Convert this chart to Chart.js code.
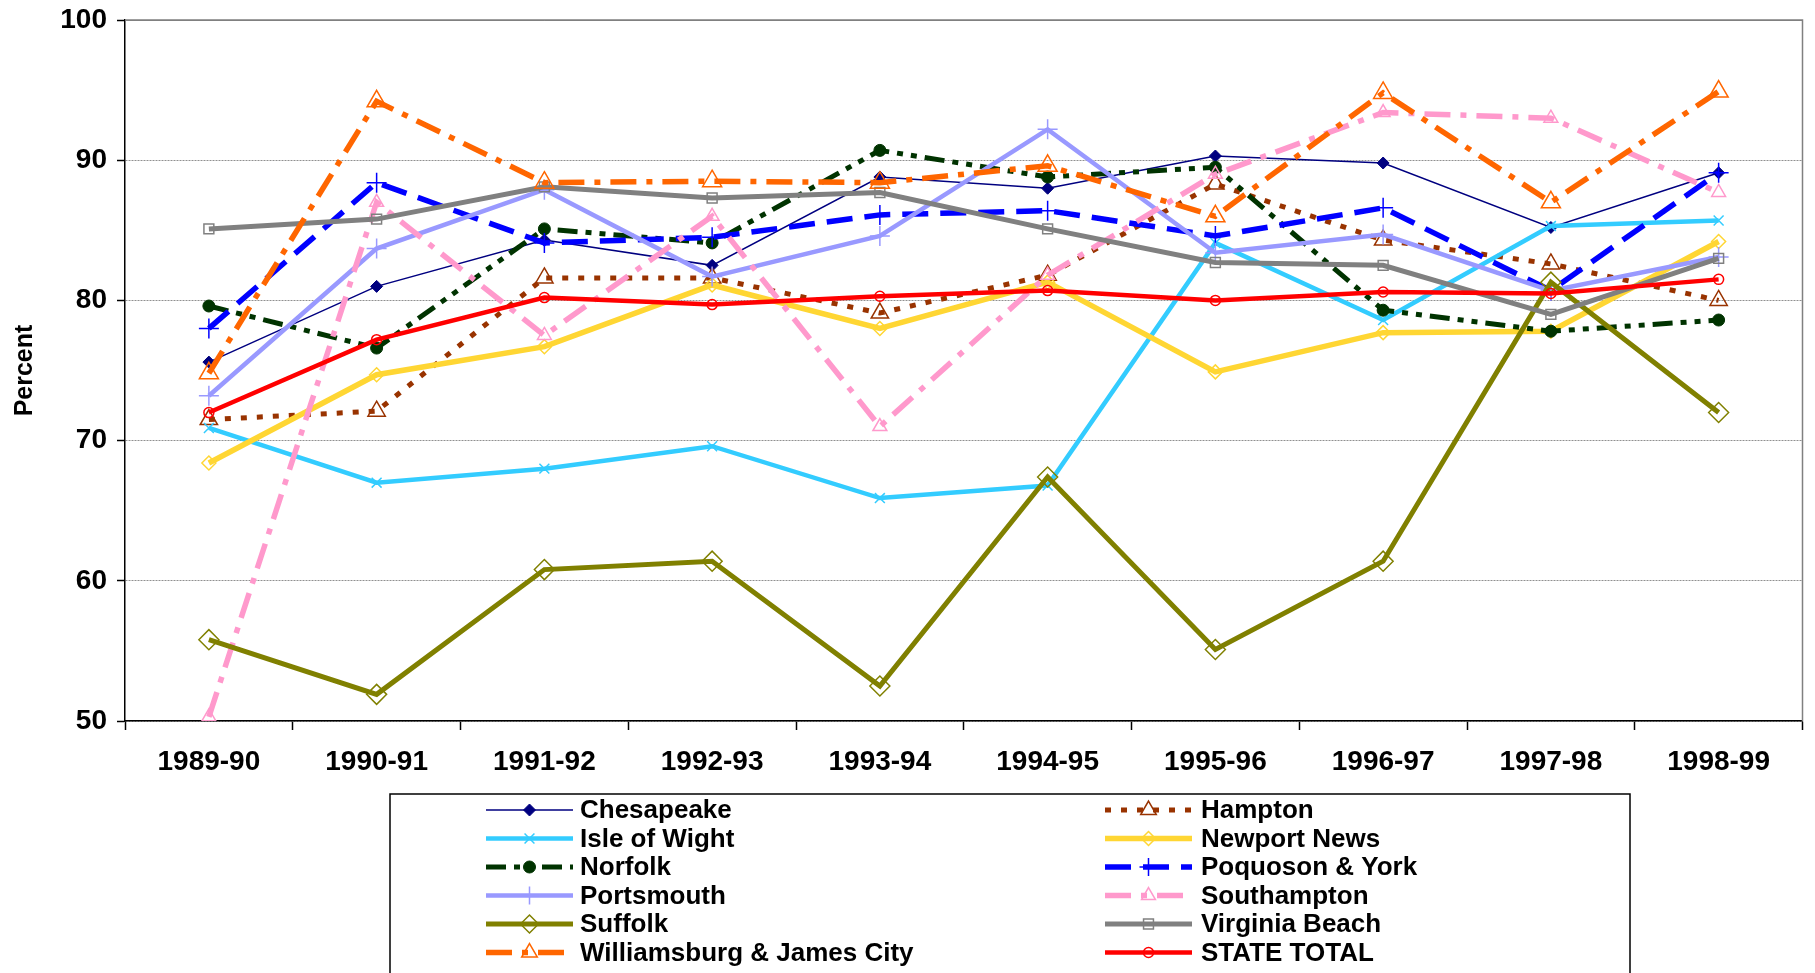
<!DOCTYPE html>
<html>
<head>
<meta charset="utf-8">
<script src="https://cdn.jsdelivr.net/npm/chart.js@4.4.1/dist/chart.umd.min.js"></script>
<style>
  html, body { margin: 0; padding: 0; background: #fff; }
  canvas { display: block; }
</style>
</head>
<body>
<canvas id="chart" width="1815" height="973"></canvas>
<script>
const years = ["1989-90", "1990-91", "1991-92", "1992-93", "1993-94", "1994-95", "1995-96", "1996-97", "1997-98", "1998-99"];
const yTicks = [50, 60, 70, 80, 90, 100];

const chesapeake   = [75.6, 81.0, 84.3, 82.5, 88.8, 88.0, 90.3, 89.8, 85.2, 89.1];
const hampton      = [71.5, 72.1, 81.6, 81.6, 79.1, 81.8, 88.3, 84.3, 82.6, 80.0];
const isleOfWight  = [70.9, 67.0, 68.0, 69.6, 65.9, 66.8, 84.1, 78.6, 85.3, 85.7];
const newportNews  = [68.4, 74.7, 76.7, 81.1, 78.0, 81.3, 74.9, 77.7, 77.8, 84.2];
const norfolk      = [79.6, 76.6, 85.1, 84.1, 90.7, 88.8, 89.5, 79.3, 77.8, 78.6];
const poquoson     = [78.0, 88.4, 84.1, 84.5, 86.1, 86.4, 84.6, 86.6, 80.7, 89.1];
const portsmouth   = [73.2, 83.7, 87.9, 81.7, 84.6, 92.2, 83.4, 84.7, 80.7, 83.1];
const southampton  = [50.3, 87.0, 77.5, 86.0, 71.0, 81.8, 89.0, 93.4, 93.0, 87.7];
const suffolk      = [55.8, 51.9, 60.8, 61.4, 52.5, 67.4, 55.1, 61.4, 81.3, 72.0];
const virginiaBch  = [85.1, 85.8, 88.1, 87.3, 87.7, 85.1, 82.7, 82.5, 79.0, 83.0];
const williamsburg = [74.8, 94.2, 88.4, 88.5, 88.4, 89.6, 86.0, 94.8, 87.0, 94.9];
const stateTotal   = [72.0, 77.2, 80.2, 79.7, 80.3, 80.7, 80.0, 80.6, 80.5, 81.5];

const NONE = "rgba(0,0,0,0)";

function series(label, data, color, width, dash, pointStyle, radius, filled) {
  return {
    label: label,
    data: data,
    borderColor: color,
    borderWidth: width,
    borderDash: dash,
    pointStyle: pointStyle,
    pointRadius: radius,
    pointHoverRadius: radius,
    pointBorderColor: color,
    pointBackgroundColor: filled ? color : NONE,
    pointBorderWidth: filled ? 1 : 1.5,
    tension: 0,
    fill: false
  };
}

const datasets = [
  series("Chesapeake", chesapeake, "#000080", 1.5, [], "rectRot", 6, true),
  series("Hampton", hampton, "#993300", 5, [6, 10], "triangle", 10, false),
  series("Isle of Wight", isleOfWight, "#33CCFF", 4.5, [], "crossRot", 7, false),
  series("Newport News", newportNews, "#FFD633", 5.5, [], "rectRot", 7, false),
  series("Norfolk", norfolk, "#003300", 5, [20, 8, 6, 8, 6, 8], "circle", 6, true),
  series("Poquoson & York", poquoson, "#0000FF", 5.5, [26, 12], "cross", 10, false),
  series("Portsmouth", portsmouth, "#9999FF", 4.5, [], "cross", 10, false),
  series("Southampton", southampton, "#FF99CC", 5.5, [26, 10, 6, 10], "triangle", 8, false),
  series("Suffolk", suffolk, "#808000", 5, [], "rectRot", 10, false),
  series("Virginia Beach", virginiaBch, "#808080", 5, [], "rect", 7, false),
  series("Williamsburg & James City", williamsburg, "#FF6600", 5.5, [26, 10, 6, 10], "triangle", 11, false),
  series("STATE TOTAL", stateTotal, "#FF0000", 4.5, [], "circle", 5, false)
];
// later series drawn on top, like the original
datasets.forEach((d, i) => { d.order = datasets.length - i; });

Chart.defaults.font.family = "'Liberation Sans', Arial, sans-serif";
Chart.defaults.color = "#000";

// plot frame (top / right) and the legend box below the axis
const framePlugin = {
  id: "frame",
  beforeDatasetsDraw(chart) {
    const a = chart.chartArea;
    const ctx = chart.ctx;
    ctx.save();
    ctx.strokeStyle = "#808080";
    ctx.lineWidth = 1.5;
    ctx.beginPath();
    ctx.moveTo(a.left, a.top);
    ctx.lineTo(a.right, a.top);
    ctx.lineTo(a.right, a.bottom);
    ctx.stroke();
    ctx.restore();
  }
};

const legendPlugin = {
  id: "boxLegend",
  afterDraw(chart) {
    const ctx = chart.ctx;
    ctx.save();
    ctx.strokeStyle = "#000";
    ctx.lineWidth = 1.5;
    ctx.strokeRect(390, 794, 1240, 200);
    const colLine = [486, 1105];
    const colText = [580, 1201];
    chart.data.datasets.forEach((ds, i) => {
      const col = i % 2;
      const row = Math.floor(i / 2);
      const y = 810 + row * 28.5;
      const x0 = colLine[col], x1 = x0 + 87;
      ctx.save();
      ctx.strokeStyle = ds.borderColor;
      ctx.lineWidth = ds.borderWidth;
      ctx.setLineDash(ds.borderDash);
      ctx.beginPath();
      ctx.moveTo(x0, y);
      ctx.lineTo(x1, y);
      ctx.stroke();
      ctx.setLineDash([]);
      ctx.strokeStyle = ds.pointBorderColor;
      ctx.fillStyle = ds.pointBackgroundColor;
      ctx.lineWidth = ds.pointBorderWidth;
      Chart.helpers.drawPoint(ctx, {
        pointStyle: ds.pointStyle,
        radius: Math.min(ds.pointRadius, 9),
        borderWidth: ds.pointBorderWidth,
        rotation: 0
      }, (x0 + x1) / 2, y);
      ctx.restore();
      ctx.fillStyle = "#000";
      ctx.font = "bold 26px 'Liberation Sans', Arial, sans-serif";
      ctx.textBaseline = "middle";
      ctx.textAlign = "left";
      ctx.fillText(ds.label, colText[col], y + 1);
    });
    ctx.restore();
  }
};

new Chart(document.getElementById("chart"), {
  type: "line",
  data: { labels: years, datasets: datasets },
  options: {
    responsive: false,
    animation: false,
    layout: { padding: { top: 20, right: -3, left: 0, bottom: 0 } },
    plugins: {
      legend: { display: false },
      tooltip: { enabled: false }
    },
    scales: {
      x: {
        offset: true,
        grid: {
          offset: true,
          drawOnChartArea: false,
          drawTicks: true,
          tickLength: 9,
          tickColor: "#000",
          tickWidth: 1.5
        },
        border: { display: true, color: "#000", width: 1.5 },
        ticks: {
          font: { size: 28, weight: "bold" },
          color: "#000",
          padding: 15,
          maxRotation: 0,
          autoSkip: false
        },
        afterFit(scale) {
          scale.height = 252;
          scale.paddingLeft = 0;
          scale.paddingRight = 0;
        }
      },
      y: {
        min: yTicks[0],
        max: yTicks[yTicks.length - 1],
        afterBuildTicks(scale) { scale.ticks = yTicks.map(v => ({ value: v })); },
        grid: {
          color: ctx => (ctx.tick && ctx.tick.value === 100) ? "#808080" : "#909090",
          lineWidth: 1,
          drawTicks: true,
          tickLength: 8,
          tickColor: "#000",
          tickWidth: 1.5
        },
        border: {
          display: true,
          color: "#000",
          width: 1.5,
          dash: ctx => (ctx.tick && ctx.tick.value === 100) ? [] : [2, 1]
        },
        ticks: {
          font: { size: 28, weight: "bold" },
          color: "#000",
          padding: 10
        },
        title: {
          display: true,
          text: "Percent",
          font: { size: 25, weight: "bold" },
          color: "#000",
          padding: { top: 10, bottom: 0 }
        },
        afterFit(scale) {
          scale.width = 125;
          scale.paddingTop = 0;
          scale.paddingBottom = 0;
        }
      }
    }
  },
  plugins: [framePlugin, legendPlugin]
});
</script>
</body>
</html>
